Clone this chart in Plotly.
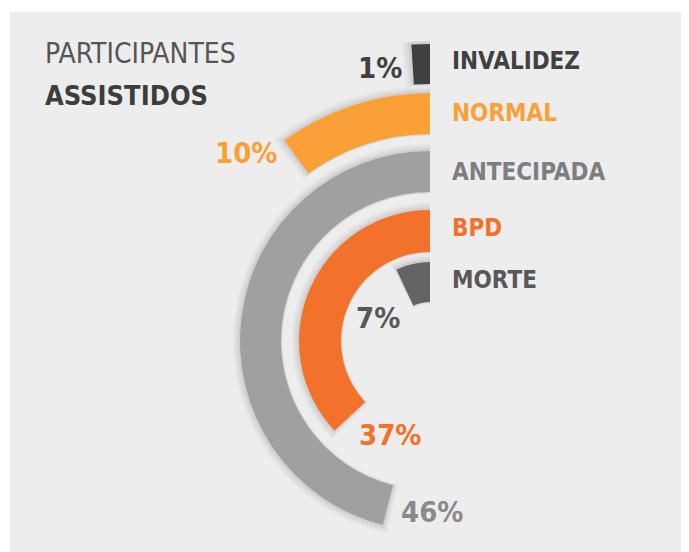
import plotly.graph_objects as go

# ---- data ----
categories = ["INVALIDEZ", "NORMAL", "ANTECIPADA", "BPD", "MORTE"]
percent = [1, 10, 46, 37, 7]
pct_labels = ["1%", "10%", "46%", "37%", "7%"]

# ---- style ----
OFF = 8                      # page body margin of the html page
W, H = 689 - OFF, 552 - OFF
CX, CY = 430 - OFF, 341 - OFF   # polar centre (px from top-left of figure)
IN_R = 200                   # radius (px) of the inner polar subplot
OUT_R = 300                  # radius (px) of the outer quarter subplot
ring_inner = [257, 207, 149, 89, 39]
ring_thick = [40, 41, 41, 42, 40]
outer_set = [True, True, False, False, False]   # which rings go to the outer subplot
bar_colors = ["#404040", "#F9A036", "#A0A09E", "#F2722C", "#646467"]
cat_colors = ["#404040", "#F9A036", "#7E7E82", "#F2722C", "#58585A"]
pct_colors = ["#404040", "#F9A036", "#8A8A8E", "#F2722C", "#58585A"]
cat_pos = [(450, 61), (450, 113), (450, 172), (450, 228), (450, 280)]
pct_pos = [(404, 68, "right"), (279, 153, "right"), (399, 512, "left"),
           (423, 435, "right"), (402, 318, "right")]
BOLD = "DejaVu Sans Condensed, DejaVu Sans, sans-serif"
REG = "Liberation Sans Narrow, DejaVu Sans Condensed, sans-serif"

sweep = [p * 3.6 for p in percent]

fig = go.Figure()


def add_rings(idx, subplot):
    r = [ring_thick[i] for i in idx]
    b = [ring_inner[i] for i in idx]
    s = [sweep[i] for i in idx]
    c = [bar_colors[i] for i in idx]
    n = [categories[i] for i in idx]
    # faint soft shadow
    for op, grow in [(0.03, 6), (0.04, 4), (0.05, 2)]:
        fig.add_trace(go.Barpolar(
            r=[t + 1.5 * grow for t in r],
            base=[v - 0.3 * grow for v in b],
            theta=[v / 2 + grow * 0.15 for v in s],
            width=[v + grow * 0.3 for v in s],
            marker=dict(color="rgba(0,0,0,%s)" % op, line=dict(width=0)),
            hoverinfo="skip", showlegend=False, subplot=subplot,
        ))
    fig.add_trace(go.Barpolar(
        r=r, base=b,
        theta=[v / 2 for v in s], width=s,
        marker=dict(color=c, line=dict(width=0)),
        text=n, hovertemplate="%{text}<extra></extra>",
        showlegend=False, subplot=subplot,
    ))


add_rings([i for i in range(5) if not outer_set[i]], "polar")
add_rings([i for i in range(5) if outer_set[i]], "polar2")

ann = []
for c, col, (x, y) in zip(categories, cat_colors, cat_pos):
    ann.append(dict(text="<b>%s</b>" % c, x=(x - OFF) / W, y=1 - (y - OFF) / H,
                    xref="paper", yref="paper", xanchor="left", yanchor="middle",
                    showarrow=False, font=dict(family=BOLD, size=24, color=col)))
for t, col, (x, y, a) in zip(pct_labels, pct_colors, pct_pos):
    ann.append(dict(text="<b>%s</b>" % t, x=(x - OFF) / W, y=1 - (y - OFF) / H,
                    xref="paper", yref="paper", xanchor=a, yanchor="middle",
                    showarrow=False, font=dict(family=BOLD, size=29, color=col)))
ann.append(dict(text="PARTICIPANTES", x=(43 - OFF) / W, y=1 - (53 - OFF) / H,
                xref="paper", yref="paper", xanchor="left", yanchor="middle",
                showarrow=False, font=dict(family=REG, size=28, color="#555555")))
ann.append(dict(text="<b>ASSISTIDOS</b>", x=(43 - OFF) / W, y=1 - (95 - OFF) / H,
                xref="paper", yref="paper", xanchor="left", yanchor="middle",
                showarrow=False, font=dict(family=BOLD, size=27, color="#3D3D3D")))

hidden_r = dict(visible=False, showgrid=False)
hidden_a = dict(rotation=90, direction="counterclockwise", visible=False,
                showgrid=False, showline=False)

fig.update_layout(
    width=W, height=H,
    margin=dict(l=0, r=0, t=0, b=0),
    paper_bgcolor="white",
    plot_bgcolor="white",
    shapes=[dict(type="rect", xref="paper", yref="paper",
                 x0=(10 - OFF) / W, x1=1, y0=0, y1=1 - (12 - OFF) / H,
                 fillcolor="#EDEDED", line=dict(width=0), layer="below")],
    polar=dict(
        domain=dict(x=[(CX - IN_R) / W, (CX + IN_R) / W],
                    y=[(H - CY - IN_R) / H, (H - CY + IN_R) / H]),
        bgcolor="rgba(0,0,0,0)",
        radialaxis=dict(range=[0, IN_R], **hidden_r),
        angularaxis=hidden_a,
    ),
    polar2=dict(
        domain=dict(x=[(CX - OUT_R) / W, CX / W],
                    y=[(H - CY) / H, (H - CY + OUT_R) / H]),
        sector=[90, 180],
        bgcolor="rgba(0,0,0,0)",
        radialaxis=dict(range=[0, OUT_R], **hidden_r),
        angularaxis=hidden_a,
    ),
    annotations=ann,
    bargap=0,
)

fig.write_html("out.html")
